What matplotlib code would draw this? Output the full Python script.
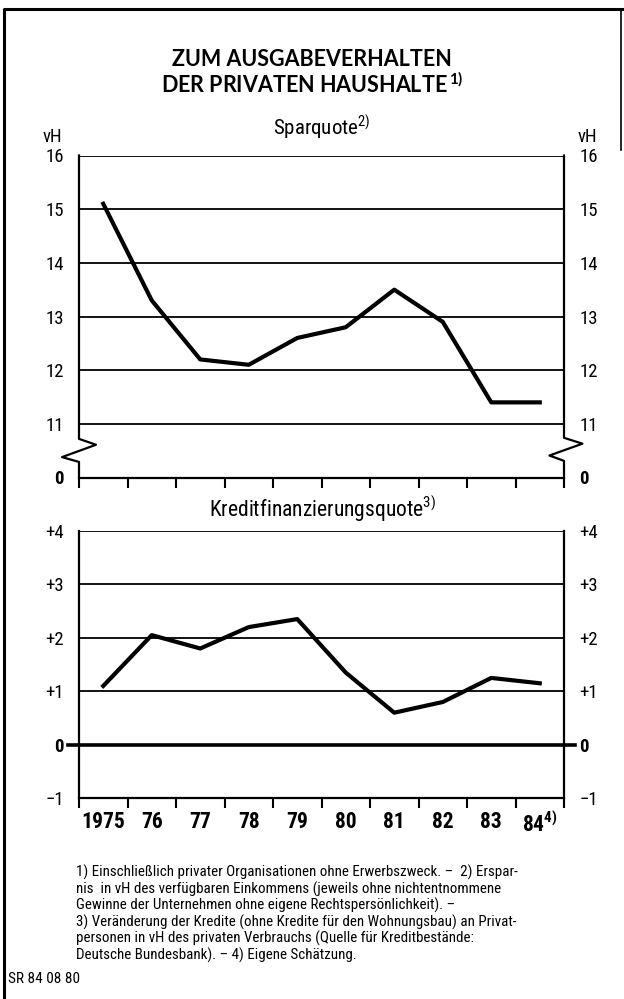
import matplotlib.pyplot as plt
from matplotlib import font_manager
import numpy as np

# Daten (vH)
years = ['1975', '76', '77', '78', '79', '80', '81', '82', '83', '84$^{4)}$']
sparquote = [15.1, 13.3, 12.2, 12.1, 12.6, 12.8, 13.5, 12.9, 11.4, 11.4]
kredit = [1.1, 2.05, 1.8, 2.2, 2.35, 1.35, 0.6, 0.8, 1.25, 1.15]
spar_ticks = [11, 12, 13, 14, 15, 16]
kredit_ticks = [-1, 0, 1, 2, 3, 4]
kredit_labels = ['\u22121', '0', '+1', '+2', '+3', '+4']

names = {f.name for f in font_manager.fontManager.ttflist}
narrow = next((n for n in ['Liberation Sans Narrow', 'DejaVu Sans Condensed', 'Roboto Condensed']
               if n in names), 'Liberation Sans')
plt.rcParams['font.family'] = [narrow, 'DejaVu Sans']
plt.rcParams['mathtext.default'] = 'regular'

W, H = 624, 999
fig = plt.figure(figsize=(W / 100, H / 100), dpi=100)

def fx(px):
    return px / W

def fy(py):
    return 1 - py / H

x = np.arange(len(sparquote)) + 0.5

# ---- oben: Sparquote
ax1 = fig.add_axes([fx(79), fy(477.5), fx(485), 322 / H])
ax1.plot(x, sparquote, color='k', lw=3)
ax1.set_xlim(0, 10)
ax1.set_ylim(10, 16)
for v in spar_ticks:
    ax1.axhline(v, color='k', lw=1.3, zorder=1)
ax1.set_yticks([10] + spar_ticks, ['0'] + [str(v) for v in spar_ticks])
ax1.set_xticks(np.arange(11))
ax1.set_xticklabels([])
for s in ['top', 'left', 'right']:
    ax1.spines[s].set_visible(False)
ax1.spines['bottom'].set_linewidth(1.6)
ax1.tick_params(axis='x', direction='out', length=7, width=1.5)
ax1.tick_params(axis='y', length=0, labelright=True, pad=11, labelsize=13.5)
t0 = ax1.yaxis.get_major_ticks()[0]
t0.label1.set_fontweight('bold')
t0.label2.set_fontweight('bold')
# Achsen mit Bruchzeichen
yt = ax1.get_yaxis_transform()
ax1.plot([0, 0, 0.035, -0.035, 0, 0], [16, 10.72, 10.61, 10.38, 10.29, 10],
         transform=yt, color='k', lw=1.6, clip_on=False)
ax1.plot([1, 1, 1.038, 0.97, 1, 1], [16, 10.74, 10.63, 10.41, 10.31, 10],
         transform=yt, color='k', lw=1.6, clip_on=False)

# ---- unten: Kreditfinanzierungsquote
ax2 = fig.add_axes([fx(79), fy(798.3), fx(485), 267.5 / H])
ax2.plot(x, kredit, color='k', lw=3)
ax2.set_xlim(0, 10)
ax2.set_ylim(-1, 4)
for v in kredit_ticks[2:]:
    ax2.axhline(v, color='k', lw=1.3, zorder=1)
ax2.axhline(0, xmin=-0.022, xmax=1.023, color='k', lw=2.6, clip_on=False)
ax2.set_yticks(kredit_ticks, kredit_labels)
ax2.spines['top'].set_visible(False)
for s in ['left', 'right', 'bottom']:
    ax2.spines[s].set_linewidth(1.6)
ax2.set_xticks(np.arange(11))
ax2.set_xticklabels([])
ax2.set_xticks(x, years, minor=True, fontweight='bold', fontsize=15.5)
ax2.tick_params(axis='x', which='major', direction='out', length=7, width=1.5)
ax2.tick_params(axis='x', which='minor', length=0, pad=9)
ax2.tick_params(axis='y', length=0, labelright=True, pad=11, labelsize=13.5)
t0 = ax2.yaxis.get_major_ticks()[1]
t0.label1.set_fontweight('bold')
t0.label2.set_fontweight('bold')

# ---- Texte
title_font = ['Lato', 'DejaVu Sans']
fig.text(0.5, fy(60), 'ZUM AUSGABEVERHALTEN', ha='center', va='center',
         fontsize=15.5, fontweight='bold', family=title_font)
fig.text(0.5, fy(84), 'DER PRIVATEN HAUSHALTE$^{\\,1)}$', ha='center', va='center',
         fontsize=15.5, fontweight='bold', family=title_font)
fig.text(fx(321.5), fy(127), 'Sparquote$^{2)}$', ha='center', va='center', fontsize=15)
fig.text(fx(323), fy(508), 'Kreditfinanzierungsquote$^{3)}$', ha='center', va='center',
         fontsize=15.5)
fig.text(fx(62), fy(137), 'vH', ha='right', va='center', fontsize=13.5)
fig.text(fx(578), fy(137), 'vH', ha='left', va='center', fontsize=13.5)

footnote = ('1) Einschließlich privater Organisationen ohne Erwerbszweck. \u2013  2) Erspar-\n'
            'nis  in vH des verfügbaren Einkommens (jeweils ohne nichtentnommene\n'
            'Gewinne der Unternehmen ohne eigene Rechtspersönlichkeit). \u2013\n'
            '3) Veränderung der Kredite (ohne Kredite für den Wohnungsbau) an Privat-\n'
            'personen in vH des privaten Verbrauchs (Quelle für Kreditbestände:\n'
            'Deutsche Bundesbank). \u2013 4) Eigene Schätzung.')
fig.text(fx(76), fy(865), footnote, ha='left', va='top', fontsize=10.8, linespacing=1.1)
fig.text(fx(8), fy(979), 'SR 84 08 80', ha='left', va='center', fontsize=11)

# Rahmen
fig.add_artist(plt.Line2D([fx(4), fx(4), fx(624)], [0, fy(9), fy(9)], color='k', lw=2.2))
fig.add_artist(plt.Line2D([fx(621), fx(621)], [fy(9), fy(150)], color='k', lw=1.2))

fig.savefig('out.png', dpi=100)
